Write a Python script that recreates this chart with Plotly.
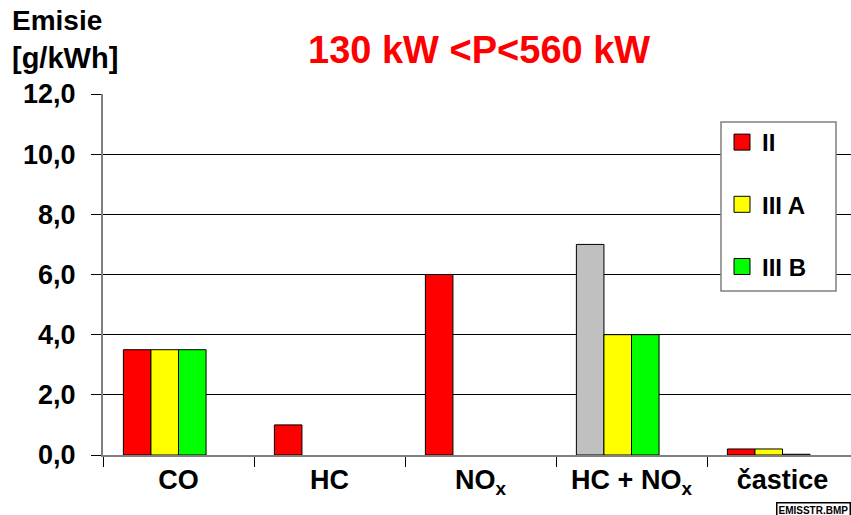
import plotly.graph_objects as go

categories = ["CO", "HC", "NO<sub>x</sub>", "HC + NO<sub>x</sub>", "častice"]
stage_ii = [3.5, 1.0, 6.0, 7.0, 0.2]
stage_iiia = [3.5, None, None, 4.0, 0.2]
stage_iiib = [3.5, None, None, 4.0, 0.025]
series_names = ["II", "III A", "III B"]
stage_ii_colors = ["#ff0000", "#ff0000", "#ff0000", "#c0c0c0", "#ff0000"]
series_colors = ["#ff0000", "#ffff00", "#00ff00"]
y_ticks = [0, 2, 4, 6, 8, 10, 12]

FONT = "Arial, Liberation Sans, sans-serif"
W, H = 851, 515
L, T, B = 103, 94, 60

fig = go.Figure()
outline = dict(color="black", width=1)
fig.add_trace(go.Bar(x=categories, y=stage_ii, marker=dict(color=stage_ii_colors, line=outline), showlegend=False))
fig.add_trace(go.Bar(x=categories, y=stage_iiia, marker=dict(color=series_colors[1], line=outline), showlegend=False))
fig.add_trace(go.Bar(x=categories, y=stage_iiib, marker=dict(color=series_colors[2], line=outline), showlegend=False))
fig.add_trace(go.Bar(x=categories, y=[None] * len(categories), showlegend=False, hoverinfo="skip"))

# legend entries
for i, (name, col) in enumerate(zip(series_names, series_colors)):
    fig.add_trace(go.Scatter(x=[None], y=[None], mode="markers", name=name, legendgroup=name,
                             marker=dict(symbol="square", size=16, color=col, line=dict(color="black", width=1))))

plot_w = W - L
x_end = -0.5 + plot_w / 151.0

def px_to_xpaper(px):
    return (px - L) / plot_w

def px_to_ypaper(py):
    return (H - B - py) / (H - B - T)

fig.add_shape(type="rect", xref="paper", yref="paper",
              x0=px_to_xpaper(721), x1=px_to_xpaper(836), y0=px_to_ypaper(291), y1=px_to_ypaper(122),
              fillcolor="white", line=dict(color="#808080", width=1.5), layer="above")

fig.update_layout(
    width=W, height=H,
    margin=dict(l=L, r=0, t=T, b=B, pad=0),
    paper_bgcolor="white", plot_bgcolor="white",
    barmode="group", bargap=0.27, bargroupgap=0,
    separators=", ",
    font=dict(family=FONT, size=28, color="black", weight="bold"),
    showlegend=True,
    legend=dict(x=px_to_xpaper(722), xanchor="left", y=px_to_ypaper(120), yanchor="top",
                bgcolor="rgba(0,0,0,0)", borderwidth=0, tracegroupgap=28,
                traceorder="grouped", itemsizing="trace",
                font=dict(family=FONT, size=24, color="black", weight="bold")),
    xaxis=dict(range=[-0.5, x_end], showline=True, linecolor="#808080", linewidth=2,
               ticks="outside", tickson="boundaries", ticklen=10, tickcolor="black", tickwidth=1,
               showgrid=False, tickfont=dict(size=27), fixedrange=True),
    yaxis=dict(range=[0, 12], tickvals=y_ticks, tickformat=".1f", showline=True, linecolor="#808080",
               linewidth=2, ticks="outside", ticklen=10, tickcolor="black", tickwidth=1,
               showgrid=True, gridcolor="black", gridwidth=1, zeroline=False,
               tickfont=dict(size=27), ticklabelstandoff=10),
)

fig.add_annotation(text="130 kW <P<560 kW", xref="paper", yref="paper",
                   x=px_to_xpaper(479), y=px_to_ypaper(50), xanchor="center", yanchor="middle",
                   showarrow=False, font=dict(size=38, color="#ff0000", family=FONT, weight="bold"))
fig.add_annotation(text="Emisie", xref="paper", yref="paper", x=px_to_xpaper(10), y=px_to_ypaper(21),
                   xanchor="left", yanchor="middle", showarrow=False,
                   font=dict(size=28, family=FONT, weight="bold"))
fig.add_annotation(text="[g/kWh]", xref="paper", yref="paper", x=px_to_xpaper(10), y=px_to_ypaper(58),
                   xanchor="left", yanchor="middle", showarrow=False,
                   font=dict(size=29, family=FONT, weight="bold"))
fig.add_annotation(text="EMISSTR.BMP", xref="paper", yref="paper", x=px_to_xpaper(776), y=px_to_ypaper(502),
                   xanchor="left", yanchor="top", showarrow=False, bordercolor="black", borderwidth=1.5,
                   borderpad=1, bgcolor="white",
                   font=dict(size=10, family=FONT, weight="bold"))

fig.write_html("out.html")
